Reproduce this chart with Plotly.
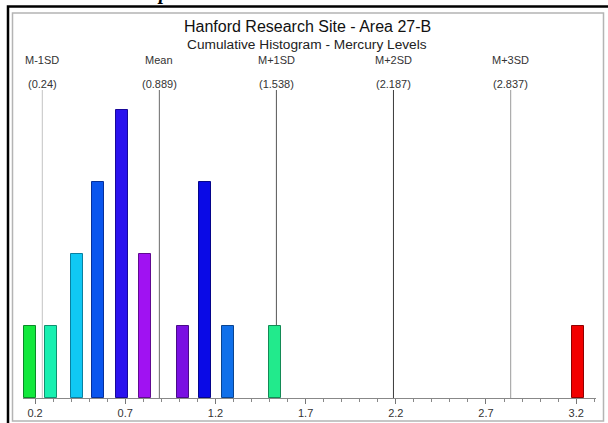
import plotly.graph_objects as go

# Mercury level bins (mg/kg) and number of samples in each
levels = [0.17, 0.29, 0.43, 0.55, 0.68, 0.81, 1.02, 1.14, 1.27, 1.53, 3.21]
counts = [1, 1, 2, 3, 4, 2, 1, 3, 1, 1, 1]

bar_fill = ["#12e83c", "#18f0b0", "#10c8f4", "#0a55ee", "#2a12ee", "#a012f2",
            "#7a10e2", "#0a0ae6", "#1070ea", "#22ea8c", "#f20000"]
bar_edge = ["#0a8a28", "#109070", "#0a80a0", "#06309a", "#18089a", "#600a90",
            "#4a0a8a", "#05058a", "#0a4490", "#138a55", "#900000"]

# Summary statistics drawn as reference lines
stat_names = ["M-1SD", "Mean", "M+1SD", "M+2SD", "M+3SD"]
stat_values = [0.24, 0.889, 1.538, 2.187, 2.837]
stat_colors = ["#c4c4c4", "#6a6a6a", "#555555", "#3a3a3a", "#9a9a9a"]

tick_values = [0.2, 0.7, 1.2, 1.7, 2.2, 2.7, 3.2]
tick_labels = ["0.2", "0.7", "1.2", "1.7", "2.2", "2.7", "3.2"]

W, H = 608, 423
FONT = "Liberation Sans, Arial, sans-serif"


def px(x):
    return x / W


def py(y):
    return 1 - y / H


fig = go.Figure()
fig.add_trace(go.Bar(
    x=levels, y=counts, width=0.066,
    marker=dict(color=bar_fill, line=dict(color=bar_edge, width=1)),
    hoverinfo="x+y",
))

shapes = []
annotations = []

# Reference lines with their labels above the plot area
for name, val, col in zip(stat_names, stat_values, stat_colors):
    shapes.append(dict(type="line", xref="x", yref="y domain", x0=val, x1=val,
                       y0=0, y1=1, line=dict(color=col, width=1), layer="below"))
    annotations.append(dict(xref="x", yref="paper", x=val, y=py(60), text=name,
                            showarrow=False, xanchor="center", yanchor="middle",
                            font=dict(family=FONT, size=11, color="#333333")))
    annotations.append(dict(xref="x", yref="paper", x=val, y=py(84), text=f"({val:g})",
                            showarrow=False, xanchor="center", yanchor="middle",
                            font=dict(family=FONT, size=11, color="#333333")))

# Titles
annotations.append(dict(xref="paper", yref="paper", x=px(307), y=py(27),
                        text="Hanford Research Site - Area 27-B", showarrow=False,
                        xanchor="center", yanchor="middle",
                        font=dict(family=FONT, size=16, color="#111111")))
annotations.append(dict(xref="paper", yref="paper", x=px(307), y=py(44),
                        text="Cumulative Histogram - Mercury Levels", showarrow=False,
                        xanchor="center", yanchor="middle",
                        font=dict(family=FONT, size=13.7, color="#222222")))

# Fragment of the page text above the chart frame
annotations.append(dict(xref="paper", yref="paper", x=px(163), y=py(6),
                        text="<b><i>p</i></b>", showarrow=False,
                        xanchor="center", yanchor="bottom",
                        font=dict(family="Liberation Serif, serif", size=20, color="#000000")))

# Chart frames: black outer page border and light gray inner border
shapes.append(dict(type="rect", xref="paper", yref="paper",
                   x0=px(8), x1=px(640), y0=py(6.5), y1=py(460),
                   line=dict(color="#000000", width=2.5), layer="above"))
shapes.append(dict(type="rect", xref="paper", yref="paper",
                   x0=px(12.5), x1=px(603.5), y0=py(13), y1=py(421),
                   line=dict(color="#b4b4b4", width=1.5), layer="above"))

fig.update_layout(
    width=W, height=H, autosize=False,
    margin=dict(l=0, r=0, t=0, b=0),
    paper_bgcolor="white", plot_bgcolor="white",
    showlegend=False,
    shapes=shapes, annotations=annotations,
    bargap=0,
    xaxis=dict(
        domain=[px(23), px(596)], range=[0.133, 3.31],
        tickmode="array", tickvals=tick_values, ticktext=tick_labels,
        ticks="outside", ticklen=5, tickcolor="#777777", tickwidth=1,
        minor=dict(dtick=0.1, tick0=0.2, ticks="outside", ticklen=3,
                   tickcolor="#888888", tickwidth=1, showgrid=False),
        showline=True, linecolor="#888888", linewidth=1,
        showgrid=False, zeroline=False, automargin=False,
        tickfont=dict(family=FONT, size=11, color="#333333"),
    ),
    yaxis=dict(
        domain=[1 - 398 / H, 1 - 90 / H], range=[0, 4.28],
        visible=False, showgrid=False, zeroline=False, automargin=False,
    ),
)

fig.write_html("out.html")
